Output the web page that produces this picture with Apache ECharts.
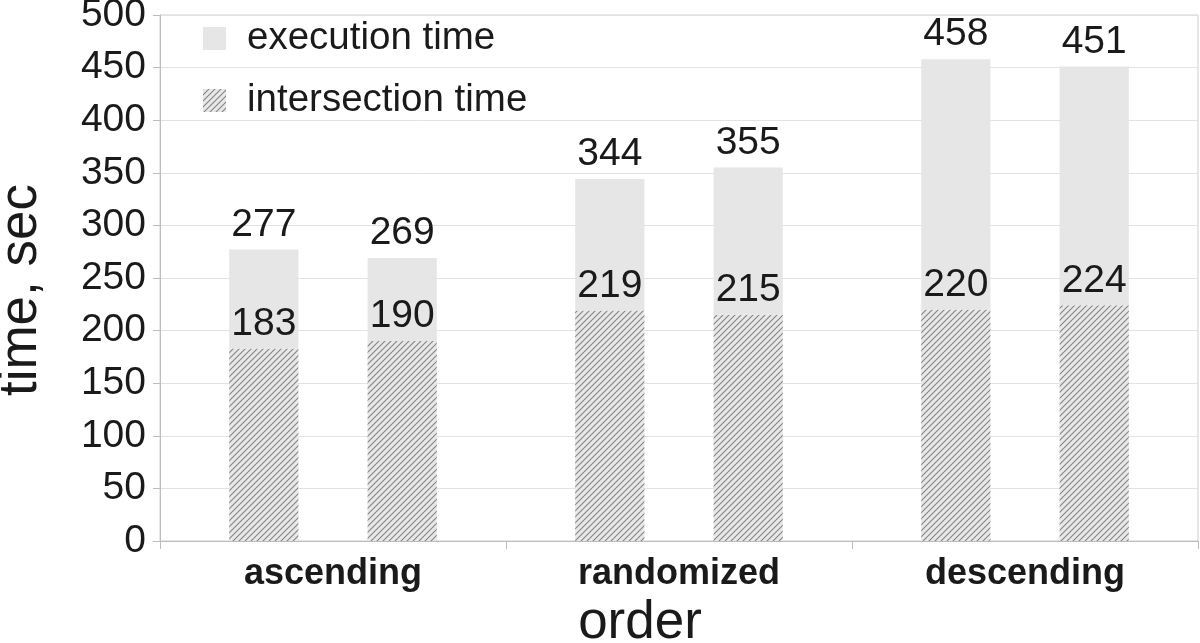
<!DOCTYPE html>
<html>
<head>
<meta charset="utf-8">
<script src="https://cdn.jsdelivr.net/npm/echarts@6/dist/echarts.min.js"></script>
<style>html,body{margin:0;padding:0;background:#fff}#c{width:1200px;height:643px}</style>
</head>
<body>
<div id="c"></div>
<script>
const categories = ['ascending', 'randomized', 'descending'];
const execFirst = [277, 344, 458];
const interFirst = [183, 219, 220];
const execSecond = [269, 355, 451];
const interSecond = [190, 215, 224];
const yTicks = [0, 50, 100, 150, 200, 250, 300, 350, 400, 450, 500];

function hatch() {
  const s = 6;
  const c = document.createElement('canvas');
  c.width = s; c.height = s;
  const g = c.getContext('2d');
  g.fillStyle = '#e8e8e8';
  g.fillRect(0, 0, s, s);
  g.strokeStyle = '#858585';
  g.lineWidth = 1.1;
  g.beginPath();
  g.moveTo(0, s); g.lineTo(s, 0);
  g.moveTo(-s / 2, s / 2); g.lineTo(s / 2, -s / 2);
  g.moveTo(s / 2, s * 1.5); g.lineTo(s * 1.5, s / 2);
  g.stroke();
  return c;
}
const pattern = { image: hatch(), repeat: 'repeat' };
const FONT = '"Liberation Sans", Arial, sans-serif';
const txt = '#1a1a1a';

const labelTop = (arr) => ({
  show: true, position: 'top', distance: 5,
  fontSize: 39, color: txt, fontFamily: FONT,
  formatter: p => String(arr[p.dataIndex])
});

const chart = echarts.init(document.getElementById('c'));
chart.setOption({
  animation: false,
  backgroundColor: '#fff',
  textStyle: { fontFamily: FONT },
  grid: { left: 160, right: 2, top: 15, bottom: 102, containLabel: false, outerBoundsMode: 'none',
    show: true, borderColor: '#cfcfcf', borderWidth: 1 },
  legend: {
    orient: 'vertical', left: 198, top: 14, itemWidth: 23, itemHeight: 23, itemGap: 23,
    icon: 'rect',
    data: ['execution time', 'intersection time'],
    textStyle: { fontSize: 38.5, color: txt, fontFamily: FONT, padding: [0, 0, 0, 16] }
  },
  xAxis: {
    type: 'category', data: categories,
    axisLine: { lineStyle: { color: '#bdbdbd' } },
    axisTick: { show: true, length: 8, alignWithLabel: false, lineStyle: { color: '#bdbdbd' } },
    axisLabel: { fontSize: 36, fontWeight: 'bold', color: txt, margin: 15, fontFamily: FONT },
    name: 'order', nameLocation: 'middle', nameGap: 56,
    nameTextStyle: { fontSize: 53, color: txt, fontFamily: FONT, padding: [0, 78, 0, 0] }
  },
  yAxis: {
    type: 'value', min: yTicks[0], max: yTicks[yTicks.length - 1], interval: yTicks[1] - yTicks[0],
    axisLine: { show: true, lineStyle: { color: '#bdbdbd' } },
    axisTick: { show: true, length: 7, lineStyle: { color: '#bdbdbd' } },
    axisLabel: { fontSize: 39, color: txt, margin: 14, fontFamily: FONT },
    splitLine: { lineStyle: { color: '#e2e2e2' } },
    name: 'time, sec', nameLocation: 'middle', nameGap: 112, nameRotate: 90,
    nameTextStyle: { fontSize: 53, color: txt, fontFamily: FONT, padding: [0, 24, 0, 0] }
  },
  series: [
    { name: 'intersection time', type: 'bar', stack: 'first', data: interFirst,
      itemStyle: { color: pattern }, label: labelTop(interFirst),
      barCategoryGap: '40%', barGap: '100%' },
    { name: 'execution time', type: 'bar', stack: 'first',
      data: execFirst.map((v, i) => v - interFirst[i]),
      itemStyle: { color: '#e6e6e6' }, label: labelTop(execFirst) },
    { name: 'intersection time', type: 'bar', stack: 'second', data: interSecond,
      itemStyle: { color: pattern }, label: labelTop(interSecond) },
    { name: 'execution time', type: 'bar', stack: 'second',
      data: execSecond.map((v, i) => v - interSecond[i]),
      itemStyle: { color: '#e6e6e6' }, label: labelTop(execSecond) }
  ]
});
</script>
</body>
</html>
